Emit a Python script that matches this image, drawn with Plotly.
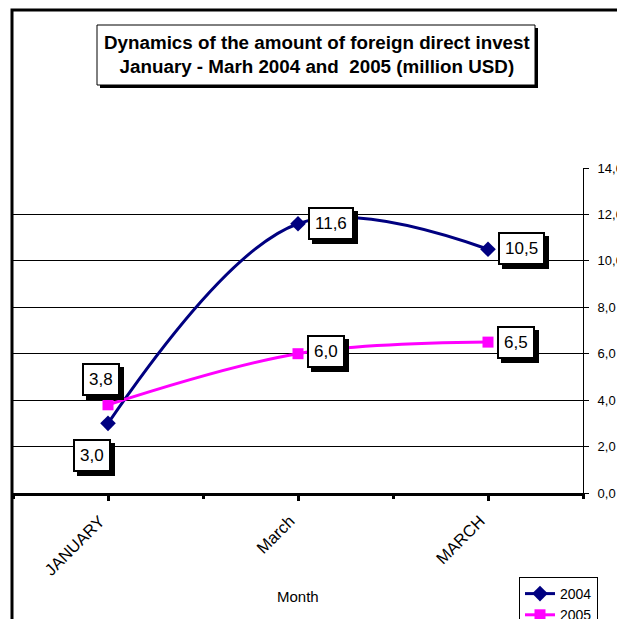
import plotly.graph_objects as go

months = ["JANUARY", "March", "MARCH"]
values_2004 = [3.0, 11.6, 10.5]
values_2005 = [3.8, 6.0, 6.5]
series_names = ["2004", "2005"]
y_ticks = [0, 2, 4, 6, 8, 10, 12, 14]
title_lines = ["Dynamics of the amount of foreign direct invest",
               "January - Marh 2004 and  2005 (million USD)"]

W, H = 617, 619
L, R, T, B = 13, 34, 168, 126
PW, PH = W - L - R, H - T - B
FONT = "Liberation Sans, Arial, sans-serif"


def px(x):
    return (x - L) / PW


def py(y):
    return (H - B - y) / PH


fig = go.Figure()
fig.add_trace(go.Scatter(
    x=months, y=values_2004, name=series_names[0], mode="lines+markers",
    line=dict(color="#000080", width=3, shape="spline", smoothing=1),
    marker=dict(symbol="diamond", size=12, color="#000080")))
fig.add_trace(go.Scatter(
    x=months, y=values_2005, name=series_names[1], mode="lines+markers",
    line=dict(color="#FF00FF", width=3, shape="spline", smoothing=1),
    marker=dict(symbol="square", size=11, color="#FF00FF")))
# helper trace for boundary ticks axis
fig.add_trace(go.Scatter(x=months, y=[None] * len(months), xaxis="x2",
                         showlegend=False, hoverinfo="skip", mode="markers"))


def fmt(v):
    return f"{v:.1f}".replace(".", ",")


label_offsets_2004 = [(-16, -32), (33, 0), (33, 1)]
label_offsets_2005 = [(-7, 25), (28, 2), (28, 0)]

anns = []
for vals, offs in ((values_2004, label_offsets_2004), (values_2005, label_offsets_2005)):
    for m, v, (dx, dy) in zip(months, vals, offs):
        common = dict(x=m, y=v, xref="x", yref="y", showarrow=False,
                      text=fmt(v), borderpad=5, borderwidth=2,
                      font=dict(family=FONT, size=17, color="black"))
        anns.append(dict(common, xshift=dx + 4, yshift=dy - 4,
                         bgcolor="black", bordercolor="black"))
        anns.append(dict(common, xshift=dx, yshift=dy,
                         bgcolor="white", bordercolor="black"))

anns.append(dict(x=px(317), y=py(55), xref="paper", yref="paper", showarrow=False,
                 text="<b>" + title_lines[0] + "</b><br><b>" + title_lines[1] + "</b>",
                 font=dict(family=FONT, size=18.8, color="black"),
                 xanchor="center", yanchor="middle"))
anns.append(dict(x=px(298), y=py(596), xref="paper", yref="paper", showarrow=False,
                 text="Month", font=dict(family=FONT, size=15, color="black"),
                 xanchor="center", yanchor="middle"))

shapes = [
    dict(type="rect", xref="paper", yref="paper",
         x0=px(100), x1=px(538), y0=py(88), y1=py(28),
         fillcolor="black", line=dict(width=0)),
    dict(type="rect", xref="paper", yref="paper",
         x0=px(97), x1=px(535), y0=py(85), y1=py(25),
         fillcolor="white", line=dict(color="black", width=1)),
    dict(type="rect", xref="paper", yref="paper",
         x0=px(12), x1=px(700), y0=py(700), y1=py(10),
         line=dict(color="black", width=3)),
]

fig.update_layout(
    width=W, height=H, margin=dict(l=L, r=R, t=T, b=B, autoexpand=False),
    paper_bgcolor="white", plot_bgcolor="white",
    separators=",.",
    font=dict(family=FONT, size=13, color="black"),
    showlegend=True,
    legend=dict(x=px(519), y=py(577), xanchor="left", yanchor="top",
                bgcolor="white", bordercolor="black", borderwidth=1,
                font=dict(family=FONT, size=14, color="black"),
                tracegroupgap=0, itemsizing="trace"),
    xaxis=dict(type="category", categoryorder="array", categoryarray=months,
               range=[-0.5, 2.5], showline=True, linecolor="black", linewidth=3,
               ticks="outside", ticklen=5, tickwidth=3, tickcolor="black",
               tickangle=-45, showgrid=False, zeroline=False,
               ticklabelstandoff=4, ticklabelshift=-8,
               tickfont=dict(family=FONT, size=16.5, color="black")),
    xaxis2=dict(type="category", categoryorder="array", categoryarray=months,
                overlaying="x", anchor="y", side="bottom", range=[-0.5, 2.5],
                tickson="boundaries", ticks="outside", ticklen=5, tickwidth=3,
                tickcolor="black", showticklabels=False, showline=False,
                showgrid=False, zeroline=False),
    yaxis=dict(side="right", range=[0, 14], tickvals=y_ticks, tickformat=".1f",
               showline=True, linecolor="black", linewidth=1,
               ticks="outside", ticklen=5, tickcolor="black",
               showgrid=True, gridcolor="black", gridwidth=1, zeroline=False,
               ticklabelstandoff=6,
               tickfont=dict(family=FONT, size=13, color="black")),
    annotations=anns, shapes=shapes,
)

fig.write_html("out.html", config={"displayModeBar": False},
               post_script="document.body.style.margin='0px';")
